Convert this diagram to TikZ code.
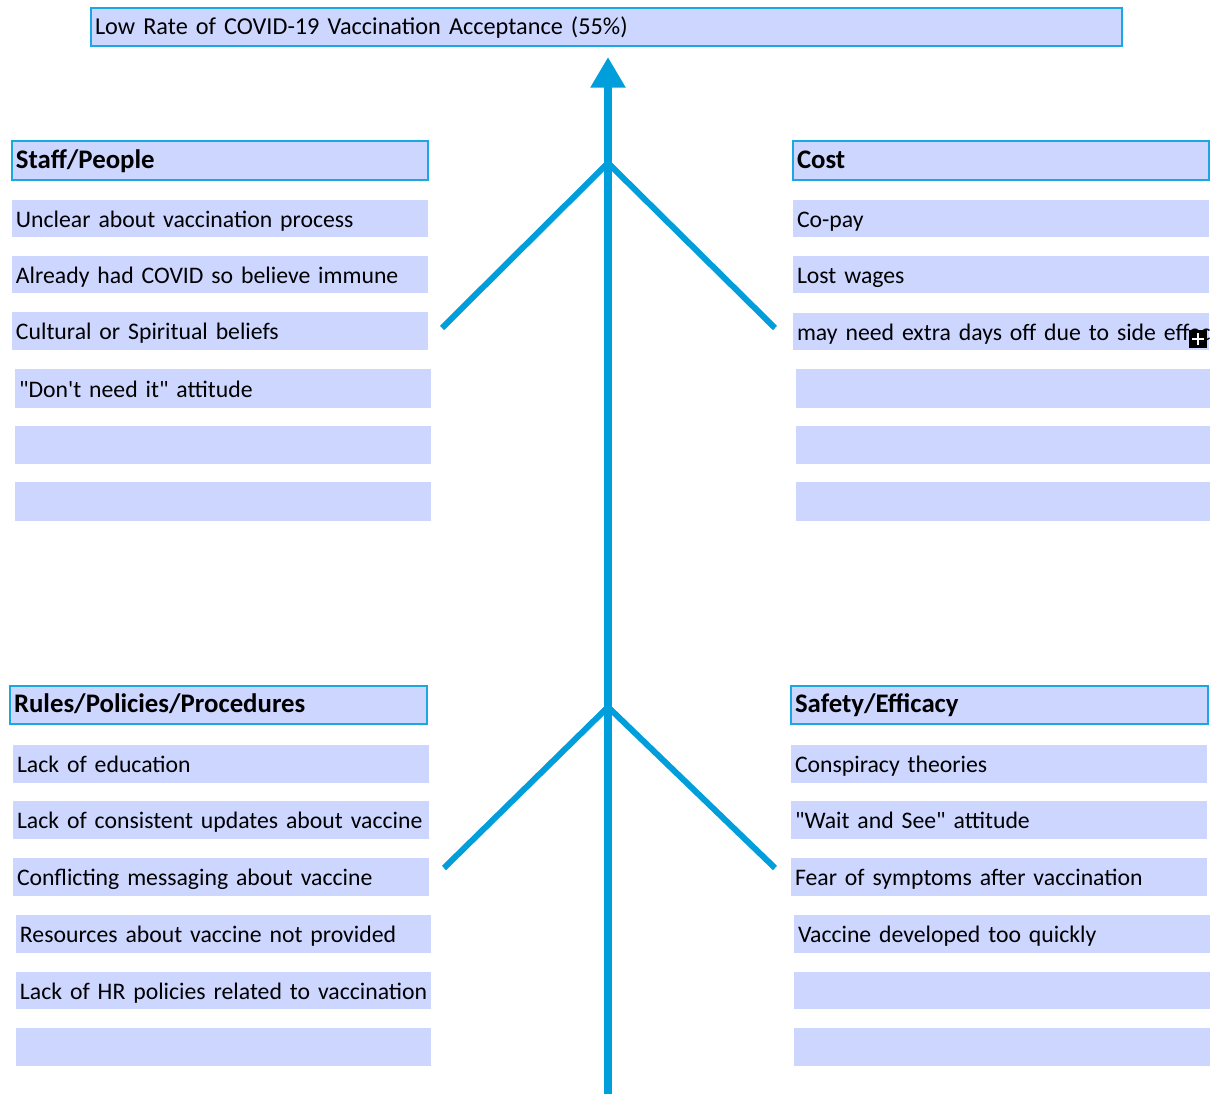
\documentclass[tikz,border=0pt]{standalone}
\usepackage{fontspec}
\setmainfont{Carlito}[Ligatures=TeXOff]
\usetikzlibrary{arrows.meta}
\definecolor{boxfill}{RGB}{204,214,255}
\definecolor{spinecol}{RGB}{0,158,219}
\definecolor{hdrline}{RGB}{27,168,224}
\newcommand\fbx[7]{%
  \node[#1, anchor=north west, outer sep=0pt,
        minimum width={(#5-#3)*0.75pt}, minimum height={(#6-#4)*0.75pt},
        text width={(#5-#3)*0.75pt-6pt}] (#2) at (#3,#4) {\mbox{#7}};}
\begin{document}
\begin{tikzpicture}[x=0.75pt,y=-0.75pt,
  itembox/.style={fill=boxfill, inner xsep=3pt, inner ysep=0pt, align=left,
     text height=16pt, text depth=3.2pt,
     font=\fontsize{17.8}{20}\selectfont},
  hdrbox/.style={fill=boxfill, draw=hdrline, line width=2pt, inner xsep=3pt, inner ysep=0pt, align=left,
     text height=15pt, text depth=3pt,
     font=\fontsize{20.1}{22}\selectfont\bfseries},
  titlebox/.style={fill=boxfill, draw=hdrline, line width=1.8pt, inner xsep=3pt, inner ysep=0pt, align=left,
     text height=15pt, text depth=3pt,
     font=\fontsize{18.2}{20}\selectfont},
  spineline/.style={draw=spinecol, line width=6pt},
  boneline/.style={draw=spinecol, line width=4.5pt, line join=round}]
\useasboundingbox (0,0) rectangle (1215,1094);

% title
\fbx{titlebox}{title}{91}{8}{1122}{46}{Low Rate of COVID-19 Vaccination Acceptance (55\%)}

% spine
\coordinate (base) at (608,1094);
\coordinate (tip) at (608,57);
\draw[spineline, -{Triangle[length=23pt,width=25pt]}] (base) -- (tip);

% upper bones
\coordinate (j1) at (608,163);
\coordinate (s1) at (442,328);
\coordinate (c1) at (775,328);
\draw[boneline] (s1) -- (j1) -- (c1);

% lower bones
\coordinate (j2) at (608,707);
\coordinate (s2) at (444,868);
\coordinate (c2) at (775,868);
\draw[boneline] (s2) -- (j2) -- (c2);

% Staff/People
\fbx{hdrbox}{staff}{12}{141}{428}{180}{Staff/People}
\fbx{itembox}{st1}{12}{200}{428}{237}{Unclear about vaccination process}
\fbx{itembox}{st2}{12}{256}{428}{293}{Already had COVID so believe immune}
\fbx{itembox}{st3}{12}{312}{428}{350}{Cultural or Spiritual beliefs}
\fbx{itembox}{st4}{15}{369}{431}{408}{"Don't need it" attitude}
\fbx{itembox}{st5}{15}{426}{431}{464}{}
\fbx{itembox}{st6}{15}{482}{431}{521}{}

% Cost
\fbx{hdrbox}{cost}{793}{141}{1209}{180}{Cost}
\fbx{itembox}{co1}{793}{200}{1209}{237}{Co-pay}
\fbx{itembox}{co2}{793}{256}{1209}{293}{Lost wages}
\begin{scope}
\clip (793,313) rectangle (1209,350);
\fbx{itembox}{co3}{793}{313}{1209}{350}{may need extra days off due to side effects}
\end{scope}
\node[fill=black, inner sep=0pt, outer sep=0pt, minimum size={18*0.75pt}] (plus) at (1198,339) {};
\draw[white, line width=2.2pt] ([xshift=-4.5pt]plus.center) -- ([xshift=4.5pt]plus.center);
\draw[white, line width=2.2pt] ([yshift=-4.5pt]plus.center) -- ([yshift=4.5pt]plus.center);
\fbx{itembox}{co4}{796}{369}{1210}{408}{}
\fbx{itembox}{co5}{796}{426}{1210}{464}{}
\fbx{itembox}{co6}{796}{482}{1210}{521}{}

% Rules/Policies/Procedures
\fbx{hdrbox}{rules}{10}{686}{427}{724}{Rules/Policies/Procedures}
\fbx{itembox}{ru1}{13}{745}{429}{783}{Lack of education}
\fbx{itembox}{ru2}{13}{801}{429}{839}{Lack of consistent updates about vaccine}
\fbx{itembox}{ru3}{13}{858}{429}{896}{Conflicting messaging about vaccine}
\fbx{itembox}{ru4}{16}{915}{431}{953}{Resources about vaccine not provided}
\fbx{itembox}{ru5}{16}{972}{431}{1009}{Lack of HR policies related to vaccination}
\fbx{itembox}{ru6}{16}{1028}{431}{1066}{}

% Safety/Efficacy
\fbx{hdrbox}{safety}{791}{686}{1208}{724}{Safety/Efficacy}
\fbx{itembox}{sa1}{791}{745}{1207}{783}{Conspiracy theories}
\fbx{itembox}{sa2}{791}{801}{1207}{839}{"Wait and See" attitude}
\fbx{itembox}{sa3}{791}{858}{1207}{896}{Fear of symptoms after vaccination}
\fbx{itembox}{sa4}{794}{915}{1210}{953}{Vaccine developed too quickly}
\fbx{itembox}{sa5}{794}{972}{1210}{1009}{}
\fbx{itembox}{sa6}{794}{1028}{1210}{1066}{}
\end{tikzpicture}
\end{document}
